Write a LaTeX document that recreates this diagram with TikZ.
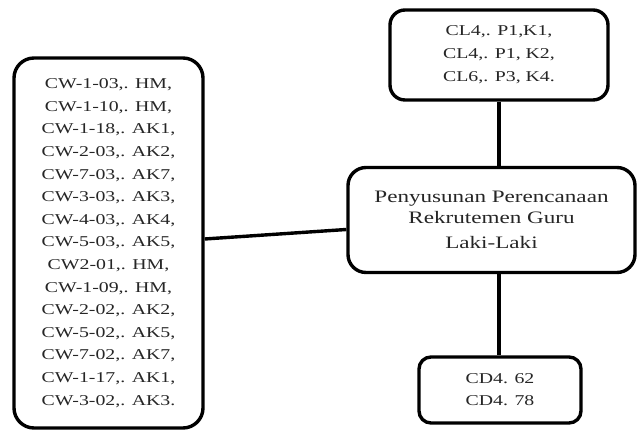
\documentclass[tikz,border=0pt]{standalone}
\usepackage{fontspec}
\setmainfont{Liberation Serif}[FakeStretch=1.32]
\begin{document}
\begin{tikzpicture}[x=1pt,y=1pt,
  box/.style={draw=black, line width=3.4pt, fill=white, align=center,
    inner sep=0pt, text=black!85},
  link/.style={draw=black, line width=3.4pt}]
\useasboundingbox (0,0) rectangle (638,430);

% left list of interview codes
\node[box, rounded corners=20pt, minimum width=189pt, minimum height=370pt,
  font=\fontsize{15}{22.6}\selectfont] (cw) at (108.5,187) {%
  CW-1-03,. HM,\\ CW-1-10,. HM,\\ CW-1-18,. AK1,\\ CW-2-03,. AK2,\\
  CW-7-03,. AK7,\\ CW-3-03,. AK3,\\ CW-4-03,. AK4,\\ CW-5-03,. AK5,\\
  CW2-01,. HM,\\ CW-1-09,. HM,\\ CW-2-02,. AK2,\\ CW-5-02,. AK5,\\
  CW-7-02,. AK7,\\ CW-1-17,. AK1,\\ CW-3-02,. AK3.};

% top box of observation codes
\node[box, rounded corners=15pt, minimum width=218pt, minimum height=90pt,
  font=\fontsize{15}{23}\selectfont] (cl) at (499,375) {%
  CL4,. P1,K1,\\ CL4,. P1, K2,\\ CL6,. P3, K4.};

% central theme
\node[box, rounded corners=18pt, minimum width=287pt, minimum height=105pt,
  font=\fontsize{17.5}{20.5}\selectfont] (main) at (491.5,210) {%
  Penyusunan Perencanaan\\ Rekrutemen Guru\\[5pt] Laki-Laki};

% bottom box of document codes
\node[box, rounded corners=12pt, minimum width=162pt, minimum height=66pt,
  font=\fontsize{15}{22}\selectfont] (cd) at (500,40) {%
  CD4. 62\\ CD4. 78};

% connectors
\draw[link] (cl.south) -- (main.north -| cl.south);
\draw[link] (main.south) ++(7.5pt,0) coordinate (ms) -- (cd.north -| ms);
\draw[link] ([yshift=4pt]cw.east) -- ([yshift=-9.5pt]main.west);
\end{tikzpicture}
\end{document}
